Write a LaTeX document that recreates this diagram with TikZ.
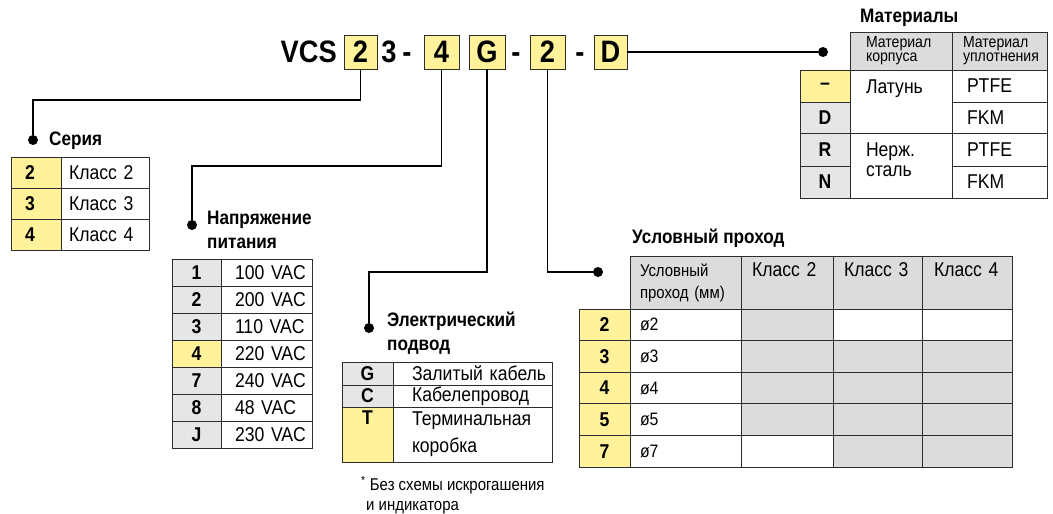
\documentclass[tikz,border=0pt]{standalone}
\usepackage{fontspec}
\setmainfont[FakeStretch=0.88]{Liberation Sans}
\usetikzlibrary{positioning}
\definecolor{yel}{RGB}{255,242,155}
\definecolor{lgr}{RGB}{230,230,230}
\definecolor{hgr}{RGB}{220,220,220}
\definecolor{rul}{RGB}{45,45,45}
\newcommand\fsz[2]{\fontsize{#1}{#2}\selectfont}
\tikzset{
  cell/.style 2 args={draw=rul, line width=1pt, anchor=north west, inner sep=0pt, outer sep=0pt,
    minimum width=#1, minimum height=#2, font=\fsz{20}{26}},
  tleft/.style 2 args={text width=#1, align=left,
    execute at begin node={\leftskip=#2pt\relax\rightskip=-30pt plus 1fil\relax}},
  ycell/.style={fill=yel, font=\fsz{20}{26}\bfseries},
  gcell/.style={fill=lgr, font=\fsz{20}{26}\bfseries},
  hcell/.style={fill=hgr},
  gfill/.style={fill=hgr},
  ttl/.style={anchor=west, inner sep=0pt, align=left, font=\fsz{19.5}{24}\bfseries},
  big/.style={inner sep=0pt, font=\fsz{31}{31}\bfseries},
  jdot/.style={circle, fill=black, inner sep=0pt, minimum size=10pt},
  wire/.style={line width=1.8pt},
}
\begin{document}
\begin{tikzpicture}[x=1pt,y=-1pt]
\useasboundingbox (0,0) rectangle (1053,514);
% order code
\node[big, anchor=east] (vcs) at (337,52) {VCS};
\node[cell={33}{34}, ycell, big] (k1) at (344,35) {2};
\node[big] (k2) at (389,52) {3};
\node[big, anchor=base] (h1) at (k2.base -| 407,0) {-};
\node[cell={35}{34}, ycell, big] (k3) at (424,35) {4};
\node[cell={36}{34}, ycell, big] (k4) at (469,35) {G};
\node[big, anchor=base] (h2) at (k2.base -| 516,0) {-};
\node[cell={35}{34}, ycell, big] (k5) at (530,35) {2};
\node[big, anchor=base] (h3) at (k2.base -| 580,0) {-};
\node[cell={33}{34}, ycell, big] (k6) at (594,35) {D};

% dots and leaders
\node[jdot] (sdot) at (33,140) {};
\node[jdot] (vdot) at (192,225) {};
\node[jdot] (edot) at (369,328) {};
\node[jdot] (pdot) at (598,272) {};
\node[jdot] (mdot) at (823,52) {};
\draw[wire] (k1.south) -- (k1.south |- 0,100) -| (sdot);
\draw[wire] (k3.south) -- (k3.south |- 0,166) -| (vdot);
\draw[wire] (k4.south) -- (k4.south |- 0,272) -| (edot);
\draw[wire] (k5.south) |- (pdot);
\draw[wire] (k6.east) -- (mdot);

% titles
\node[ttl] (sertitle) at (49,141) {Серия};
\node[ttl] (voltitle) at (207,230) {Напряжение\\питания};
\node[ttl] (eltitle) at (387,333) {Электрический\\подвод};
\node[ttl] (dntitle) at (632,238) {Условный проход};
\node[ttl] (mattitle) at (860,18) {Материалы};

% series
\node[cell={50}{31}, ycell, tleft={50}{14}] (s2) at (11,157) {2};
\node[cell={88}{31}, tleft={88}{8}, right=0pt of s2] (s2t) {Класс 2};
\node[cell={50}{31}, ycell, tleft={50}{14}, below=0pt of s2] (s3) {3};
\node[cell={88}{31}, tleft={88}{8}, right=0pt of s3] (s3t) {Класс 3};
\node[cell={50}{31}, ycell, tleft={50}{14}, below=0pt of s3] (s4) {4};
\node[cell={88}{31}, tleft={88}{8}, right=0pt of s4] (s4t) {Класс 4};

% voltage
\node[cell={49}{27}, gcell] (v1) at (172,259) {1};
\node[cell={91}{27}, tleft={91}{14}, right=0pt of v1] (v1t) {100 VAC};
\node[cell={49}{27}, gcell, below=0pt of v1] (v2) {2};
\node[cell={91}{27}, tleft={91}{14}, right=0pt of v2] (v2t) {200 VAC};
\node[cell={49}{27}, gcell, below=0pt of v2] (v3) {3};
\node[cell={91}{27}, tleft={91}{14}, right=0pt of v3] (v3t) {110 VAC};
\node[cell={49}{27}, ycell, below=0pt of v3] (v4) {4};
\node[cell={91}{27}, tleft={91}{14}, right=0pt of v4] (v4t) {220 VAC};
\node[cell={49}{27}, gcell, below=0pt of v4] (v7) {7};
\node[cell={91}{27}, tleft={91}{14}, right=0pt of v7] (v7t) {240 VAC};
\node[cell={49}{27}, gcell, below=0pt of v7] (v8) {8};
\node[cell={91}{27}, tleft={91}{14}, right=0pt of v8] (v8t) {48 VAC};
\node[cell={49}{27}, gcell, below=0pt of v8] (vj) {J};
\node[cell={91}{27}, tleft={91}{14}, right=0pt of vj] (vjt) {230 VAC};

% electrical connection
\node[cell={51}{23}, gcell] (eg) at (342,362) {G};
\node[cell={159}{23}, tleft={159}{19}, right=0pt of eg] (egt) {Залитый кабель};
\node[cell={51}{22}, gcell, below=0pt of eg] (ec) {C};
\node[cell={159}{22}, tleft={159}{19}, right=0pt of ec] (ect) {Кабелепровод};
\node[cell={51}{55}, ycell, text depth=33pt, below=0pt of ec] (et) {T};
\node[cell={159}{55}, tleft={159}{19}, font=\fsz{20}{27}, right=0pt of et] (ett) {Терминальная\\коробка};
\node[anchor=north west, inner sep=0pt, align=left, font=\fsz{17}{20}] (fnote) at (361,476)
  {\textsuperscript{*} Без схемы искрогашения\\\hspace*{5pt}и индикатора};

% nominal bore
\node[cell={111}{53}, hcell, font=\fsz{17}{22}, tleft={111}{10}] (dh1) at (630,256) {Условный\\проход (мм)};
\node[cell={92}{53}, hcell, tleft={92}{11}, text depth=25pt, right=0pt of dh1] (dh2) {Класс 2};
\node[cell={89}{53}, hcell, tleft={89}{11}, text depth=25pt, right=0pt of dh2] (dh3) {Класс 3};
\node[cell={90}{53}, hcell, tleft={90}{12}, text depth=25pt, right=0pt of dh3] (dh4) {Класс 4};
\node[cell={51}{31.6}, ycell] (d2) at (579,309) {2};
\node[cell={111}{31.6}, font=\fsz{18}{20}, tleft={111}{10}, right=0pt of d2] (d2a) {ø2};
\node[cell={92}{31.6}, gfill, right=0pt of d2a] (d2b) {};
\node[cell={89}{31.6}, right=0pt of d2b] (d2c) {};
\node[cell={90}{31.6}, right=0pt of d2c] (d2d) {};
\node[cell={51}{31.6}, ycell, below=0pt of d2] (d3) {3};
\node[cell={111}{31.6}, font=\fsz{18}{20}, tleft={111}{10}, right=0pt of d3] (d3a) {ø3};
\node[cell={92}{31.6}, gfill, right=0pt of d3a] (d3b) {};
\node[cell={89}{31.6}, gfill, right=0pt of d3b] (d3c) {};
\node[cell={90}{31.6}, gfill, right=0pt of d3c] (d3d) {};
\node[cell={51}{31.6}, ycell, below=0pt of d3] (d4) {4};
\node[cell={111}{31.6}, font=\fsz{18}{20}, tleft={111}{10}, right=0pt of d4] (d4a) {ø4};
\node[cell={92}{31.6}, gfill, right=0pt of d4a] (d4b) {};
\node[cell={89}{31.6}, gfill, right=0pt of d4b] (d4c) {};
\node[cell={90}{31.6}, gfill, right=0pt of d4c] (d4d) {};
\node[cell={51}{31.6}, ycell, below=0pt of d4] (d5) {5};
\node[cell={111}{31.6}, font=\fsz{18}{20}, tleft={111}{10}, right=0pt of d5] (d5a) {ø5};
\node[cell={92}{31.6}, gfill, right=0pt of d5a] (d5b) {};
\node[cell={89}{31.6}, gfill, right=0pt of d5b] (d5c) {};
\node[cell={90}{31.6}, gfill, right=0pt of d5c] (d5d) {};
\node[cell={51}{31.6}, ycell, below=0pt of d5] (d7) {7};
\node[cell={111}{31.6}, font=\fsz{18}{20}, tleft={111}{10}, right=0pt of d7] (d7a) {ø7};
\node[cell={92}{31.6}, right=0pt of d7a] (d7b) {};
\node[cell={89}{31.6}, gfill, right=0pt of d7b] (d7c) {};
\node[cell={90}{31.6}, gfill, right=0pt of d7c] (d7d) {};

% materials
\node[cell={102}{38}, hcell, font=\fsz{16}{14}, tleft={102}{16}] (mh1) at (850,32) {Материал\\корпуса};
\node[cell={95}{38}, hcell, font=\fsz{16}{14}, tleft={95}{11}, right=0pt of mh1] (mh2) {Материал\\уплотнения};
\node[cell={50}{32}, ycell] (mx) at (800,70) {–};
\node[cell={50}{31}, gcell, below=0pt of mx] (md) {D};
\node[cell={50}{33}, gcell, below=0pt of md] (mr) {R};
\node[cell={50}{32}, gcell, below=0pt of mr] (mn) {N};
\node[cell={102}{63}, tleft={102}{16}, text depth=29pt] (mlat) at (mx.north east) {Латунь};
\node[cell={102}{65}, tleft={102}{16}, font=\fsz{20}{20}, text depth=31pt] (mst) at (mr.north east) {Нерж.\\сталь};
\node[cell={95}{32}, tleft={95}{15}] (mp1) at (mlat.north east) {PTFE};
\node[cell={95}{31}, tleft={95}{15}, below=0pt of mp1] (mf1) {FKM};
\node[cell={95}{33}, tleft={95}{15}] (mp2) at (mst.north east) {PTFE};
\node[cell={95}{32}, tleft={95}{15}, below=0pt of mp2] (mf2) {FKM};
\end{tikzpicture}
\end{document}
